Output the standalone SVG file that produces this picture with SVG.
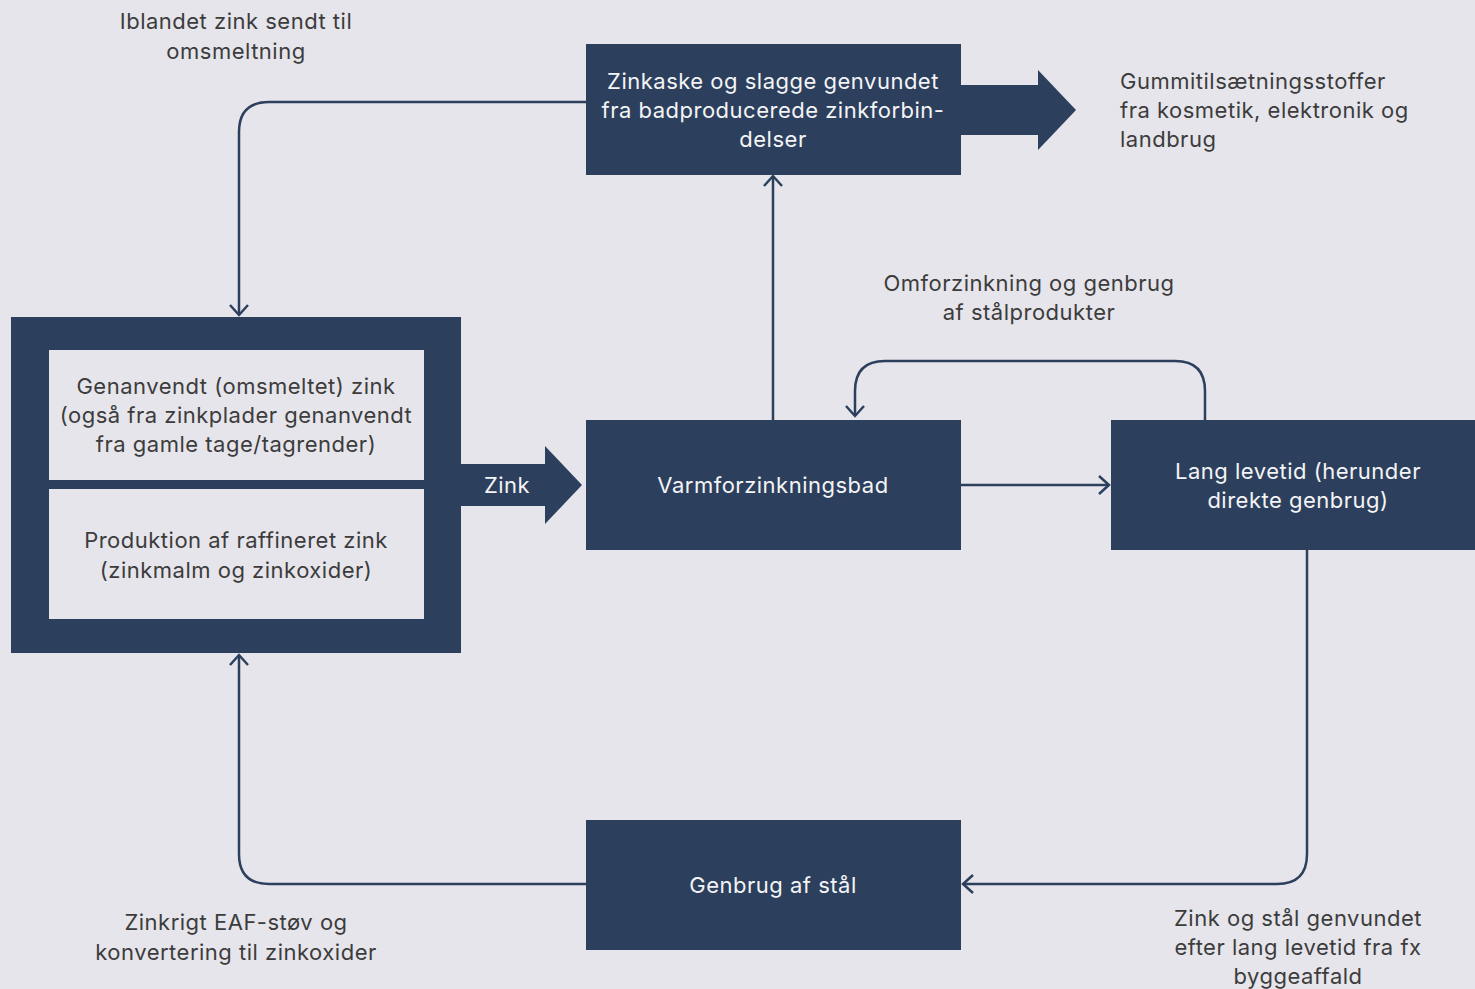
<svg xmlns="http://www.w3.org/2000/svg" width="1475" height="989" viewBox="0 0 1475 989">
<defs>
<style>
.bg{fill:#e6e5eb}
.nv{fill:#2c405e}
.lt{fill:#e6e5eb}
.tw,.tg,.tl{font-family:Inter,"Liberation Sans",sans-serif;font-size:22px;letter-spacing:0.5px}
.tw{fill:#f4f4f6;text-anchor:middle}
.tg{fill:#3c3c3c;text-anchor:middle}
.tl{fill:#3c3c3c;text-anchor:start}
.cn{fill:none;stroke:#2c405e;stroke-width:2.5;marker-end:url(#ah)}
</style>
<marker id="ah" markerUnits="userSpaceOnUse" markerWidth="24" markerHeight="24" viewBox="-12 -12 24 24" refX="0" refY="0" orient="auto">
<path d="M-10,-9 L0,0 L-10,9" fill="none" stroke="#2c405e" stroke-width="2.5"/>
</marker>
</defs>
<rect class="bg" x="0" y="0" width="1475" height="989"/>

<g id="connectors">
<path class="cn" d="M586,102 H269 Q239,102 239,132 V315"/>
<path class="cn" d="M773,420 V176"/>
<path class="cn" d="M961,485 H1109"/>
<path class="cn" d="M1205,420 V391 Q1205,361 1175,361 H885 Q855,361 855,391 V416"/>
<path class="cn" d="M1307,550 V854 Q1307,884 1277,884 H963"/>
<path class="cn" d="M586,884 H269 Q239,884 239,854 V655"/>
</g>

<g id="source">
<rect class="nv" x="11" y="317" width="450" height="336"/>
<rect class="lt" x="49" y="350" width="375" height="130"/>
<rect class="lt" x="49" y="489" width="375" height="130"/>
<text class="tg" x="236" y="394">Genanvendt (omsmeltet) zink</text>
<text class="tg" x="236" y="423">(også fra zinkplader genanvendt</text>
<text class="tg" x="236" y="452">fra gamle tage/tagrender)</text>
<text class="tg" x="236" y="548">Produktion af raffineret zink</text>
<text class="tg" x="236" y="578">(zinkmalm og zinkoxider)</text>
</g>

<g id="zink-arrow">
<polygon class="nv" points="461,464 545,464 545,446 582,485 545,524 545,506 461,506"/>
<text class="tw" x="507" y="493">Zink</text>
</g>

<g id="zinkaske">
<rect class="nv" x="586" y="44" width="375" height="131"/>
<polygon class="nv" points="961,85 1038,85 1038,70 1076,110 1038,150 1038,135 961,135"/>
<text class="tw" x="773" y="89">Zinkaske og slagge genvundet</text>
<text class="tw" x="773" y="118">fra badproducerede zinkforbin-</text>
<text class="tw" x="773" y="147">delser</text>
</g>

<g id="varmforzinkningsbad">
<rect class="nv" x="586" y="420" width="375" height="130"/>
<text class="tw" x="773" y="493">Varmforzinkningsbad</text>
</g>

<g id="lang-levetid">
<rect class="nv" x="1111" y="420" width="364" height="130"/>
<text class="tw" x="1298" y="479">Lang levetid (herunder</text>
<text class="tw" x="1298" y="508">direkte genbrug)</text>
</g>

<g id="genbrug-staal">
<rect class="nv" x="586" y="820" width="375" height="130"/>
<text class="tw" x="773" y="893">Genbrug af stål</text>
</g>

<g id="labels">
<text class="tg" x="236" y="29">Iblandet zink sendt til</text>
<text class="tg" x="236" y="59">omsmeltning</text>
<text class="tl" x="1120" y="89">Gummitilsætningsstoffer</text>
<text class="tl" x="1120" y="118">fra kosmetik, elektronik og</text>
<text class="tl" x="1120" y="147">landbrug</text>
<text class="tg" x="1029" y="291">Omforzinkning og genbrug</text>
<text class="tg" x="1029" y="320">af stålprodukter</text>
<text class="tg" x="236" y="930">Zinkrigt EAF-støv og</text>
<text class="tg" x="236" y="960">konvertering til zinkoxider</text>
<text class="tg" x="1298" y="926">Zink og stål genvundet</text>
<text class="tg" x="1298" y="955">efter lang levetid fra fx</text>
<text class="tg" x="1298" y="984">byggeaffald</text>
</g>
</svg>
